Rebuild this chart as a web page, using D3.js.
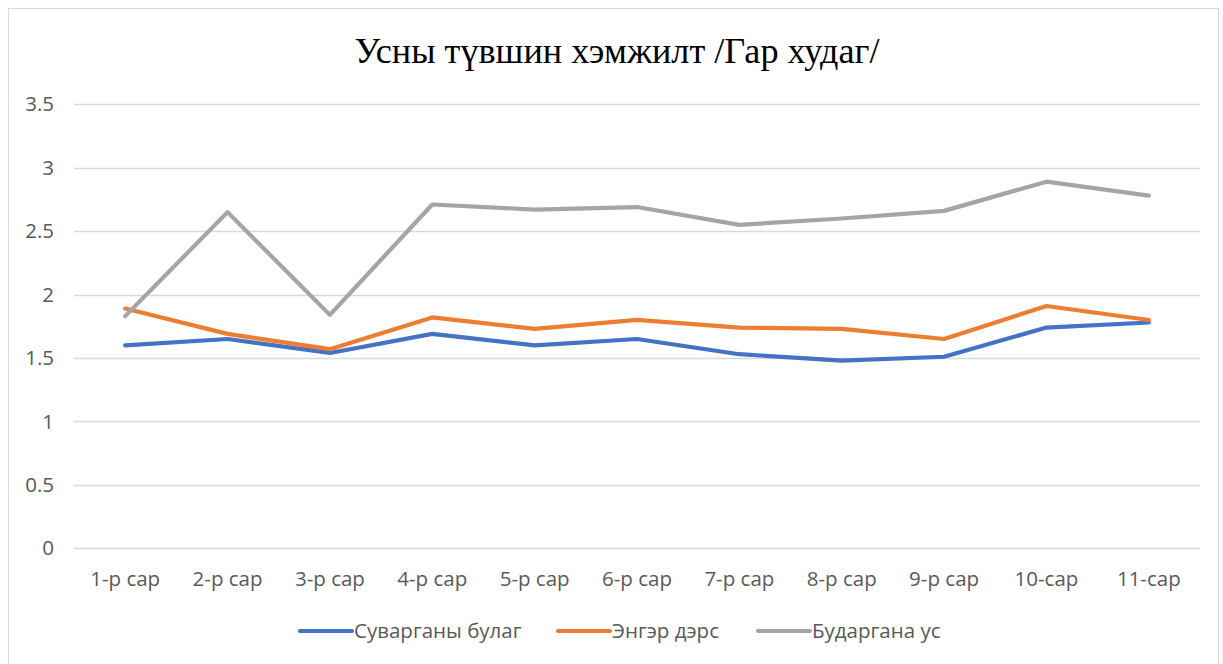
<!DOCTYPE html>
<html>
<head>
<meta charset="utf-8">
<script src="https://cdn.jsdelivr.net/npm/d3@7"></script>
<style>
  html, body { margin: 0; padding: 0; background: #fff; }
  svg { display: block; }
</style>
</head>
<body>
<svg id="chart" width="1223" height="664"></svg>
<script>
// Monthly water level readings
const months = ["1-р сар", "2-р сар", "3-р сар", "4-р сар", "5-р сар", "6-р сар",
                "7-р сар", "8-р сар", "9-р сар", "10-сар", "11-сар"];
const seriesNames = ["Суварганы булаг", "Энгэр дэрс", "Бударгана ус"];
const suvarganyBulag = [1.60, 1.65, 1.54, 1.69, 1.60, 1.65, 1.53, 1.48, 1.51, 1.74, 1.78];
const engerDers      = [1.89, 1.69, 1.57, 1.82, 1.73, 1.80, 1.74, 1.73, 1.65, 1.91, 1.80];
const budarganaUs    = [1.83, 2.65, 1.84, 2.71, 2.67, 2.69, 2.55, 2.60, 2.66, 2.89, 2.78];
const yTicks = [0, 0.5, 1, 1.5, 2, 2.5, 3, 3.5];
const colors = ["#4472C4", "#ED7D31", "#A5A5A5"];

const series = [suvarganyBulag, engerDers, budarganaUs].map((vals, i) => ({
  name: seriesNames[i], values: vals, color: colors[i]
}));

const svg = d3.select("#chart");
const plot = { left: 74, right: 1200, top: 104.3, bottom: 548.3 };
const labelFont = "'Open Sans', 'Liberation Sans', sans-serif";
const labelSize = 20.5;
const labelColor = "#595959";

// chart frame
svg.append("rect")
  .attr("x", 8.5).attr("y", 8.5)
  .attr("width", 1210).attr("height", 670)
  .attr("fill", "#fff").attr("stroke", "#d9d9d9").attr("stroke-width", 1);

// title (narrow serif face)
svg.append("text")
  .attr("x", 617).attr("y", 63)
  .attr("text-anchor", "middle")
  .attr("font-family", "'Liberation Serif', 'Times New Roman', serif")
  .attr("font-size", 35)
  .attr("textLength", 525)
  .attr("lengthAdjust", "spacingAndGlyphs")
  .attr("fill", "#000")
  .text("Усны түвшин хэмжилт /Гар худаг/");

const x = d3.scaleBand().domain(months).range([plot.left, plot.right]);
const y = d3.scaleLinear().domain([0, 3.5]).range([plot.bottom, plot.top]);

// y labels
const yAxis = d3.axisLeft(y).tickValues(yTicks).tickFormat(d3.format("")).tickSize(0).tickPadding(20);
const gy = svg.append("g").attr("transform", `translate(${plot.left},0)`).call(yAxis);
gy.select(".domain").remove();
gy.selectAll("text")
  .attr("font-family", labelFont)
  .attr("font-size", labelSize).attr("fill", labelColor);

// horizontal gridlines
svg.append("g").selectAll("line").data(yTicks).join("line")
  .attr("x1", plot.left).attr("x2", plot.right)
  .attr("y1", d => Math.round(y(d)) + 0.5).attr("y2", d => Math.round(y(d)) + 0.5)
  .attr("stroke", "#d9d9d9").attr("stroke-width", 1.5);

// x labels
const xAxis = d3.axisBottom(x).tickSize(0).tickPadding(23);
const gx = svg.append("g").attr("transform", `translate(0,${plot.bottom})`).call(xAxis);
gx.select(".domain").remove();
gx.selectAll("text")
  .attr("font-family", labelFont)
  .attr("font-size", labelSize).attr("fill", labelColor);

// series lines
const line = d3.line()
  .x((d, i) => x(months[i]) + x.bandwidth() / 2)
  .y(d => y(d));

svg.append("g").selectAll("path").data(series).join("path")
  .attr("d", s => line(s.values))
  .attr("fill", "none")
  .attr("stroke", s => s.color)
  .attr("stroke-width", 4.2)
  .attr("stroke-linejoin", "round")
  .attr("stroke-linecap", "round");

// legend
const legendX = [300, 558, 758];
const lg = svg.append("g").selectAll("g").data(series).join("g")
  .attr("transform", (s, i) => `translate(${legendX[i]},631)`);
lg.append("line")
  .attr("x1", 0).attr("x2", 52).attr("y1", 0).attr("y2", 0)
  .attr("stroke", s => s.color).attr("stroke-width", 4.2).attr("stroke-linecap", "round");
lg.append("text")
  .attr("x", 54).attr("y", 0).attr("dy", "0.35em")
  .attr("font-family", labelFont)
  .attr("font-size", labelSize).attr("fill", labelColor)
  .text(s => s.name);
</script>
</body>
</html>
